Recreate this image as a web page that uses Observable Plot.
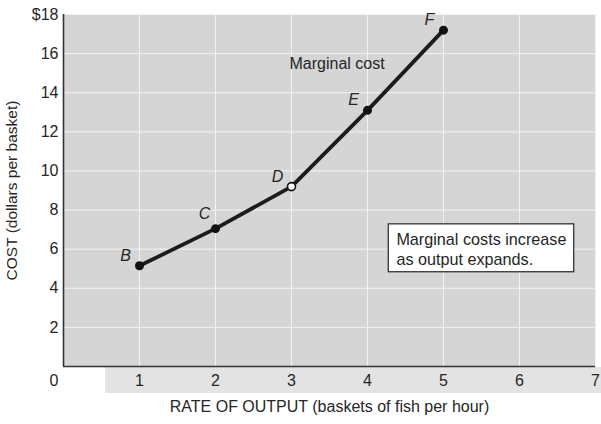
<!DOCTYPE html>
<html><head><meta charset="utf-8">
<script src="https://cdn.jsdelivr.net/npm/d3@7"></script>
<script src="https://cdn.jsdelivr.net/npm/@observablehq/plot@0.6"></script>
<style>
body{margin:0;background:#fff;}
#wrap{position:relative;width:601px;height:424px;overflow:hidden;}
#band{position:absolute;left:105px;top:367px;width:496px;height:26px;background:#e3e3e3;}
#chart{position:absolute;left:0;top:0;}
#chart g[aria-label^="x-axis"] text, #chart g[aria-label^="y-axis"] text{font-size:16px;}
</style></head><body>
<div id="wrap"><div id="band"></div><div id="chart"></div></div>
<script>
// data
const pointLabels = ["B", "C", "D", "E", "F"];
const output = [1, 2, 3, 4, 5];
const cost = [5.15, 7.05, 9.2, 13.1, 17.2];
const openPoint = [false, false, true, false, false];
const xTicks = [1, 2, 3, 4, 5, 6, 7];
const yTicks = [2, 4, 6, 8, 10, 12, 14, 16, 18];
const originLabel = ["0"];
const xTitle = "RATE OF OUTPUT (baskets of fish per hour)";
const yTitle = "COST (dollars per basket)";
const curveName = ["Marginal cost"];
const curveNamePos = [3.6, 15.5];
const noteText = ["Marginal costs increase\nas output expands."];
const noteBox = [4.28, 6.72, 4.82, 7.27];

const data = output.map((x, i) => ({x, y: cost[i], label: pointLabels[i], open: openPoint[i]}));
const font = "'Liberation Sans', Arial, Helvetica, sans-serif";
const ink = "#262626";

const chart = Plot.plot({
  width: 601,
  height: 424,
  marginLeft: 63,
  marginRight: 6,
  marginTop: 14,
  marginBottom: 58,
  style: {background: "none", fontFamily: font, fontSize: "16px", color: ink},
  x: {domain: [0, 7], ticks: xTicks, tickSize: 0, tickPadding: 8, label: null, tickFormat: d3.format("d")},
  y: {domain: [0, 18], ticks: yTicks, tickSize: 0, tickPadding: 5, label: null,
      tickFormat: d => d === 18 ? "$18" : String(d)},
  marks: [
    Plot.frame({fill: "#d5d5d5", stroke: null}),
    Plot.ruleX(xTicks, {stroke: "#f2f2f2", strokeWidth: 1}),
    Plot.ruleY(yTicks, {stroke: "#f2f2f2", strokeWidth: 1}),
    Plot.ruleX([0], {stroke: "#333", strokeWidth: 1.6}),
    Plot.ruleY([0], {stroke: "#333", strokeWidth: 1.6}),
    Plot.text(originLabel, {x: () => 0, y: () => 0, text: d => d, textAnchor: "end", dx: -5, dy: 14, fontSize: 16, fill: ink}),
    Plot.line(data, {x: "x", y: "y", stroke: "#1c1c1c", strokeWidth: 3.8}),
    Plot.dot(data.filter(d => !d.open), {x: "x", y: "y", r: 4.5, fill: "#111", stroke: "none"}),
    Plot.dot(data.filter(d => d.open), {x: "x", y: "y", r: 4, fill: "#fff", stroke: "#111", strokeWidth: 1.6}),
    Plot.text(data.filter(d => d.label !== "C"), {x: "x", y: "y", text: "label", dx: -14, dy: -10, fontStyle: "italic", fontSize: 16, fill: ink}),
    Plot.text(data.filter(d => d.label === "C"), {x: "x", y: "y", text: "label", dx: -11, dy: -15, fontStyle: "italic", fontSize: 16, fill: ink}),
    Plot.text(curveName, {x: () => curveNamePos[0], y: () => curveNamePos[1], text: d => d, fontSize: 16, fill: ink}),
    Plot.rect([noteBox], {x1: d => d[0], x2: d => d[1], y1: d => d[2], y2: d => d[3], fill: "#fff", stroke: "#333", strokeWidth: 1.3}),
    Plot.text(noteText, {x: () => noteBox[0] + 0.1, y: () => (noteBox[2] + noteBox[3]) / 2, text: d => d, textAnchor: "start", lineHeight: 1.25, fontSize: 16.2, fill: ink}),
    Plot.text([xTitle], {frameAnchor: "bottom", dy: 45, text: d => d, textAnchor: "middle", fontSize: 16, fill: ink}),
    Plot.text([yTitle], {frameAnchor: "left", dx: -51, rotate: -90, text: d => d, textAnchor: "middle", fontSize: 15.5, fill: ink})
  ]
});
document.getElementById("chart").append(chart);
</script>
</body></html>
